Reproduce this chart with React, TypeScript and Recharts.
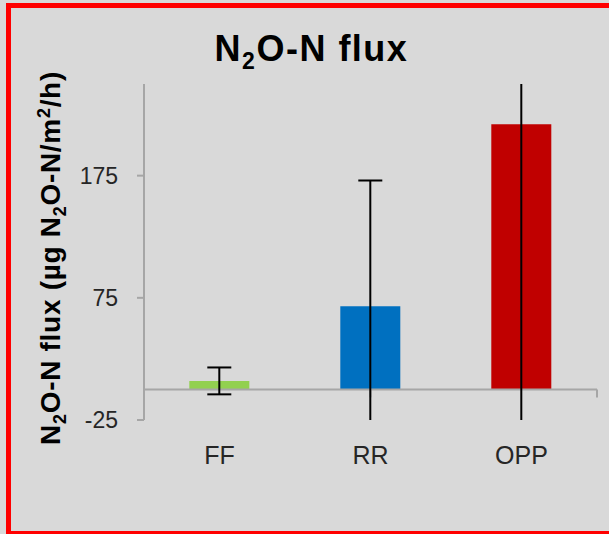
// @ts-nocheck
import { BarChart, Bar, XAxis, YAxis, ErrorBar, ReferenceLine, Cell } from "recharts";

const sites = ["FF", "RR", "OPP"];
const flux = [7, 68, 217];
const fluxErr = [11, 103, 250];
const barColors = ["#92d050", "#0070c0", "#c00000"];
const yTicks = [-25, 75, 175];
const yDomain = [-25, 250];

const data = sites.map((s, i) => ({ site: s, flux: flux[i], err: fluxErr[i] }));
const boundaries = sites.map((_, i) => i).concat([sites.length]);

const font = "'Liberation Sans', Arial, sans-serif";

function YLabel({ viewBox }) {
  const x = viewBox.x + 60;
  const y = viewBox.y + viewBox.height / 2 + 6;
  return (
    <text
      x={x}
      y={y}
      transform={`rotate(-90, ${x}, ${y})`}
      textAnchor="middle"
      fontFamily={font}
      fontWeight="bold"
      fontSize={28}
      letterSpacing={0.7}
      fill="#000"
    >
      N<tspan fontSize={18} dy={6}>2</tspan>
      <tspan dy={-6}>O-N flux (µg N</tspan>
      <tspan fontSize={18} dy={6}>2</tspan>
      <tspan dy={-6}>O-N/m</tspan>
      <tspan fontSize={18} dy={-10}>2</tspan>
      <tspan dy={10}>/h)</tspan>
    </text>
  );
}

export default function App() {
  return (
    <div
      style={{
        position: "absolute",
        left: 0,
        top: 0,
        width: 609,
        height: 534,
        background: "#d9d9d9",
        overflow: "hidden",
      }}
    >
      {/* error bars get clipped to the plot area like the bars */}
      <style>{`.recharts-errorBars { clip-path: url(#clipPath-flux); }`}</style>
      <div
        style={{
          position: "absolute",
          left: 6,
          top: 3,
          width: 640,
          height: 533,
          boxSizing: "border-box",
          border: "5px solid #ff0000",
        }}
      />
      <div
        style={{
          position: "absolute",
          left: 0,
          width: 609,
          top: 29,
          textAlign: "center",
          paddingLeft: 14,
          boxSizing: "border-box",
          fontFamily: font,
          fontWeight: "bold",
          fontSize: 36,
          letterSpacing: 1.5,
          lineHeight: "40px",
          color: "#000",
        }}
      >
        N<span style={{ fontSize: 23, verticalAlign: -8 }}>2</span>O-N flux
      </div>
      <div style={{ position: "absolute", left: 0, top: 0 }}>
        <BarChart
          width={609}
          height={534}
          data={data}
          margin={{ top: 84, right: 12, bottom: 0, left: 0 }}
          barCategoryGap="30%"
        >
          <XAxis
            dataKey="site"
            height={114}
            axisLine={false}
            tickLine={false}
            tickSize={0}
            tickMargin={26}
            tick={{ fontSize: 25, fill: "#262626", fontFamily: font }}
          />
          <XAxis xAxisId="b" type="number" domain={[0, sites.length]} hide />
          <YAxis
            width={144}
            domain={yDomain}
            ticks={yTicks}
            allowDataOverflow
            interval={0}
            axisLine={{ stroke: "#a6a6a6", strokeWidth: 2 }}
            tickLine={{ stroke: "#a6a6a6", strokeWidth: 2 }}
            tickSize={7}
            tickMargin={19}
            tick={{ fontSize: 23, fill: "#262626", fontFamily: font }}
            label={{ content: YLabel }}
          />
          <ReferenceLine y={0} stroke="#a6a6a6" strokeWidth={2} />
          {boundaries.map((b) => (
            <ReferenceLine
              key={b}
              xAxisId="b"
              segment={[
                { x: b, y: 0 },
                { x: b, y: -6.5 },
              ]}
              ifOverflow="visible"
              stroke="#a6a6a6"
              strokeWidth={2}
            />
          ))}
          <Bar id="flux" dataKey="flux" isAnimationActive={false}>
            {data.map((d, i) => (
              <Cell key={d.site} fill={barColors[i]} />
            ))}
            <ErrorBar dataKey="err" width={12} stroke="#000" strokeWidth={2} />
          </Bar>
        </BarChart>
      </div>
    </div>
  );
}
